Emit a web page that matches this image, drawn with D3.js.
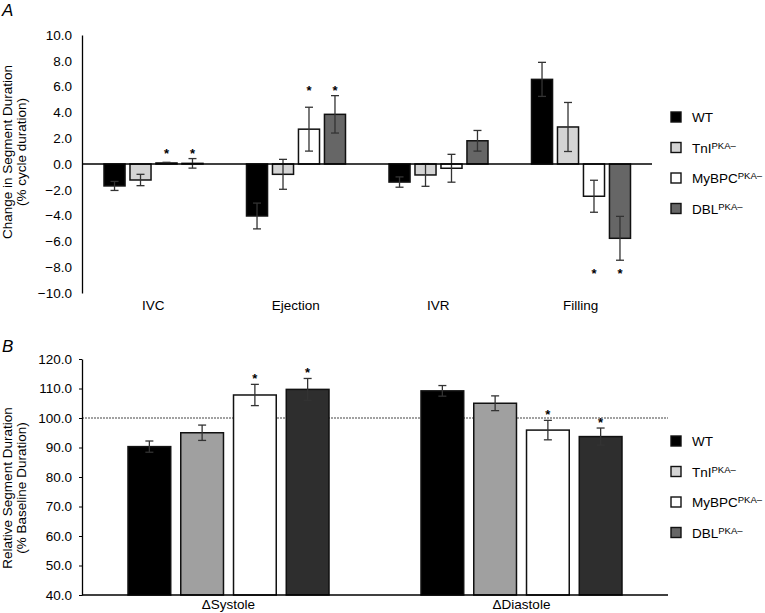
<!DOCTYPE html>
<html>
<head>
<meta charset="utf-8">
<script src="https://cdn.jsdelivr.net/npm/d3@7"></script>
<style>
  html, body { margin: 0; padding: 0; background: #fff; }
  text { font-family: "Liberation Sans", Arial, sans-serif; fill: #000; }
</style>
</head>
<body>
<svg id="chart" width="765" height="613"></svg>
<script>
// ---------- DATA ----------
const series = ["WT", "TnI", "MyBPC", "DBL"];
const seriesBase = ["WT", "TnI", "MyBPC", "DBL"];
const seriesSup = ["", "PKA–", "PKA–", "PKA–"];

// Panel A
const phasesA = ["IVC", "Ejection", "IVR", "Filling"];
const valuesA = {
  WT:    [-1.70, -4.03, -1.40,  6.56],
  TnI:   [-1.24, -0.80, -0.85,  2.87],
  MyBPC: [ 0.08,  2.70, -0.33, -2.50],
  DBL:   [ 0.05,  3.85,  1.80, -5.76]
};
const errorsA = {
  WT:    [0.35, 1.00, 0.40, 1.32],
  TnI:   [0.44, 1.16, 0.88, 1.90],
  MyBPC: [0.05, 1.70, 1.08, 1.24],
  DBL:   [0.37, 1.45, 0.80, 1.70]
};
const starsA = [["IVC","MyBPC"],["IVC","DBL"],["Ejection","MyBPC"],["Ejection","DBL"],["Filling","MyBPC"],["Filling","DBL"]];
const ticksA = [10, 8, 6, 4, 2, 0, -2, -4, -6, -8, -10];

// Panel B
const phasesB = ["ΔSystole", "ΔDiastole"];
const valuesB = {
  WT:    [90.3, 109.2],
  TnI:   [95.0, 105.0],
  MyBPC: [107.8, 95.9],
  DBL:   [109.7, 93.7]
};
const errorsB = {
  WT:    [1.9, 1.8],
  TnI:   [2.6, 2.5],
  MyBPC: [3.6, 3.3],
  DBL:   [3.7, 2.9]
};
const starsB = [["ΔSystole","MyBPC"],["ΔSystole","DBL"],["ΔDiastole","MyBPC"],["ΔDiastole","DBL"]];
const ticksB = [120, 110, 100, 90, 80, 70, 60, 50, 40];
const baselineB = 100;

// ---------- STYLE ----------
const colorsA = { WT: "#000000", TnI: "#d4d4d4", MyBPC: "#ffffff", DBL: "#666666" };
const colorsB = { WT: "#000000", TnI: "#a0a0a0", MyBPC: "#ffffff", DBL: "#2e2e2e" };
const legendColors = colorsA;

const svg = d3.select("#chart");
const fmt = d3.format(".1f");

function drawLegend(g, x, y0, step) {
  series.forEach((s, i) => {
    const y = y0 + i * step;
    g.append("rect").attr("x", x).attr("y", y - 5).attr("width", 10).attr("height", 10)
      .attr("fill", legendColors[s]).attr("stroke", "#111").attr("stroke-width", 1.4);
    const t = g.append("text").attr("x", x + 21).attr("y", y + 5).attr("font-size", 13.5);
    t.append("tspan").text(seriesBase[i]);
    if (seriesSup[i]) t.append("tspan").attr("font-size", 9.5).attr("dy", -4).text(seriesSup[i]);
  });
}

function drawPanel(opts) {
  const { cats, vals, errs, stars, ticks, y, x0, xs, colors, groupStars } = opts;
  const g = svg.append("g");

  const ax = g.append("g").attr("transform", `translate(${opts.axisX},0)`)
    .call(d3.axisLeft(y).tickValues(ticks).tickFormat(fmt).tickSize(opts.tickSize).tickSizeOuter(0).tickPadding(opts.tickPad));
  ax.select(".domain").attr("stroke", "#000").attr("stroke-width", 1.3);
  ax.selectAll(".tick line").attr("stroke", "#000");
  ax.selectAll(".tick text").attr("font-size", 13.5).attr("fill", "#000")
    .attr("font-family", "'Liberation Sans', Arial, sans-serif");

  const data = [];
  cats.forEach((c, ci) => series.forEach(s => data.push({ c, s, v: vals[s][ci], e: errs[s][ci] })));
  const base = opts.base;
  g.selectAll("rect.bar").data(data).enter().append("rect")
    .attr("x", d => x0(d.c) + xs(d.s))
    .attr("width", xs.bandwidth())
    .attr("y", d => Math.min(y(d.v), y(base)))
    .attr("height", d => Math.abs(y(d.v) - y(base)))
    .attr("fill", d => colors[d.s])
    .attr("stroke", "#111").attr("stroke-width", 1.5);

  const eg = g.append("g").attr("stroke", "#333").attr("stroke-width", 1.3);
  data.forEach(d => {
    const cx = x0(d.c) + xs(d.s) + xs.bandwidth() / 2;
    eg.append("line").attr("x1", cx).attr("x2", cx).attr("y1", y(d.v - d.e)).attr("y2", y(d.v + d.e));
    [d.v - d.e, d.v + d.e].forEach(v => eg.append("line")
      .attr("x1", cx - 4).attr("x2", cx + 4).attr("y1", y(v)).attr("y2", y(v)));
  });

  stars.forEach(([c, s]) => {
    const ci = cats.indexOf(c);
    const cx = x0(c) + xs(s) + xs.bandwidth() / 2;
    let level;
    if (groupStars) {
      const grp = stars.filter(p => p[0] === c).map(p => p[1]);
      const ends = grp.map(k => vals[k][ci] >= base ? vals[k][ci] + errs[k][ci] : vals[k][ci] - errs[k][ci]);
      level = vals[s][ci] >= base ? d3.max(ends) : d3.min(ends);
    } else {
      level = vals[s][ci] >= base ? vals[s][ci] + errs[s][ci] : vals[s][ci] - errs[s][ci];
    }
    const up = vals[s][ci] >= base;
    g.append("text").attr("x", cx).attr("y", up ? y(level) - 1 : y(level) + 18)
      .attr("text-anchor", "middle").attr("font-size", 13).attr("font-weight", "bold").text("*");
  });

  g.selectAll("text.cat").data(cats).enter().append("text")
    .attr("x", d => x0(d) + x0.bandwidth() / 2).attr("y", opts.catY)
    .attr("text-anchor", "middle").attr("font-size", 13.5).text(d => d);

  const ty = g.append("text").attr("transform", "rotate(-90)").attr("text-anchor", "middle").attr("font-size", 13.5);
  ty.append("tspan").attr("x", -opts.titleY).attr("y", 12).text(opts.title1);
  ty.append("tspan").attr("x", -opts.titleY).attr("y", 26).text(opts.title2);

  g.append("text").attr("x", 2).attr("y", opts.letterY).attr("font-size", 17)
    .attr("font-style", "italic").text(opts.letter);
  return g;
}

// ---------- PANEL A ----------
const yA = d3.scaleLinear().domain([-10, 10]).range([293, 35]);
const x0A = d3.scaleBand().domain(phasesA).range([82, 652]).padding(0);
const xsA = d3.scaleBand().domain(series).range([22, 121]).paddingInner(0.19).paddingOuter(0);
const gA = drawPanel({
  cats: phasesA, vals: valuesA, errs: errorsA, stars: starsA, ticks: ticksA,
  y: yA, x0: x0A, xs: xsA, colors: colorsA, groupStars: true, base: 0,
  axisX: 82, tickSize: 0, tickPad: 10, catY: 310,
  title1: "Change in Segment Duration", title2: "(% cycle duration)", titleY: 152,
  letter: "A", letterY: 16
});
gA.append("line").attr("x1", 82).attr("x2", 652).attr("y1", yA(0)).attr("y2", yA(0))
  .attr("stroke", "#000").attr("stroke-width", 1.5);
drawLegend(gA, 671, 117, 30.5);

// ---------- PANEL B ----------
const yB = d3.scaleLinear().domain([40, 120]).range([595, 359]);
const x0B = d3.scaleBand().domain(phasesB).range([82, 668]).padding(0);
const xsB = d3.scaleBand().domain(series).range([46, 247]).paddingInner(0.19).paddingOuter(0);
const gB = svg.append("g");
gB.append("line").attr("x1", 82).attr("x2", 668).attr("y1", yB(baselineB)).attr("y2", yB(baselineB))
  .attr("stroke", "#444").attr("stroke-width", 1.2).attr("stroke-dasharray", "2,1");
const gB2 = drawPanel({
  cats: phasesB, vals: valuesB, errs: errorsB, stars: starsB, ticks: ticksB,
  y: yB, x0: x0B, xs: xsB, colors: colorsB, groupStars: false, base: 40,
  axisX: 82, tickSize: 3, tickPad: 7, catY: 609,
  title1: "Relative Segment Duration", title2: "(% Baseline Duration)", titleY: 488,
  letter: "B", letterY: 352
});
gB2.append("line").attr("x1", 82).attr("x2", 668).attr("y1", yB(40)).attr("y2", yB(40))
  .attr("stroke", "#000").attr("stroke-width", 1.5);
drawLegend(gB2, 671, 441, 30.5);
</script>
</body>
</html>
